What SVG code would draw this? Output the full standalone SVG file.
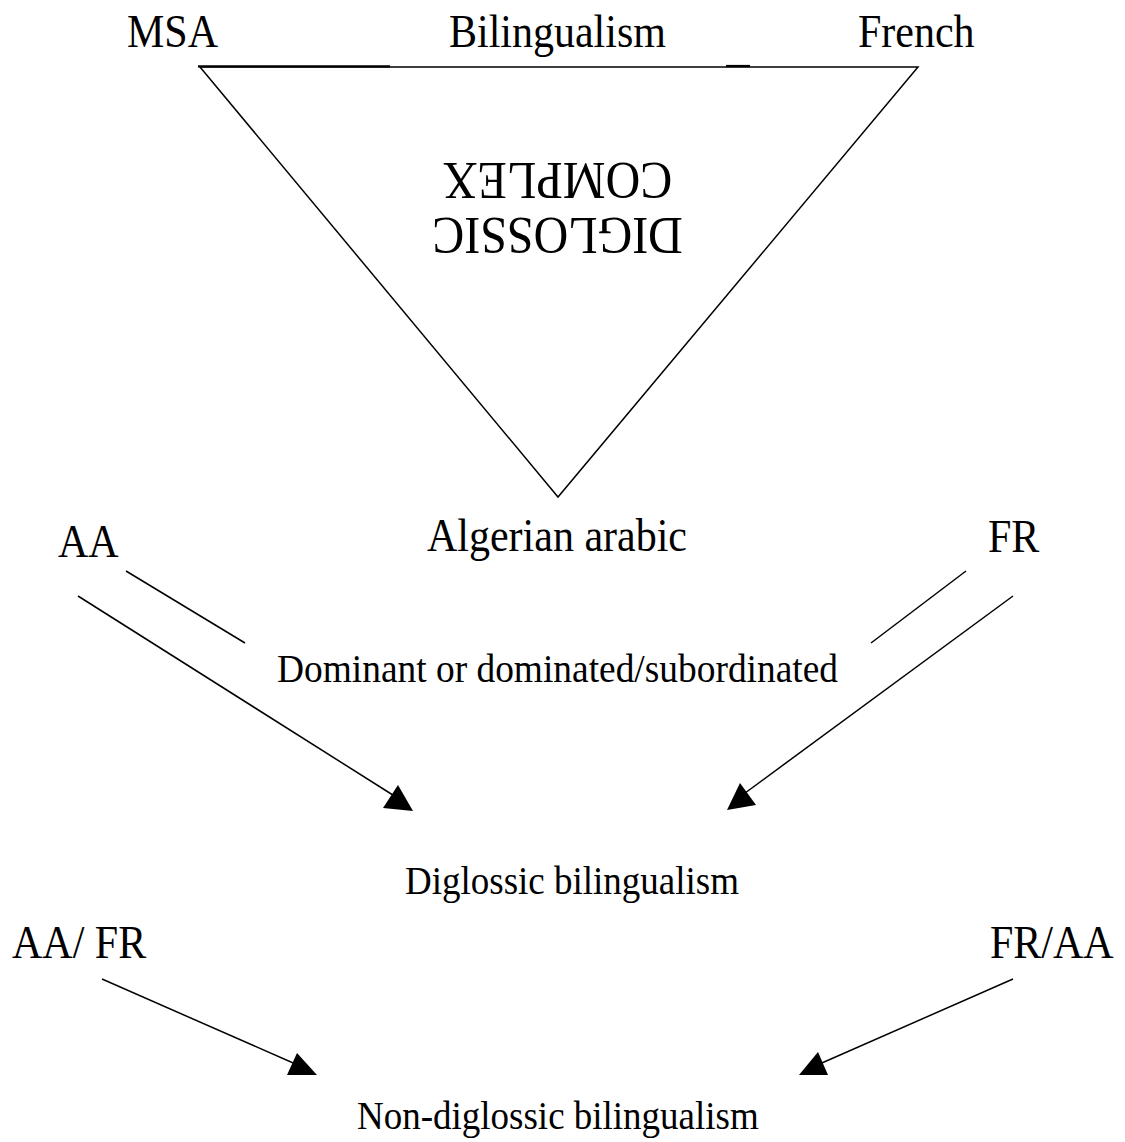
<svg xmlns="http://www.w3.org/2000/svg" width="1125" height="1142" viewBox="0 0 1125 1142">
<style>
text{font-family:"Liberation Serif","Times New Roman",serif;fill:#000}
.l{font-size:42px}
.m{font-size:37px}
.u{font-size:48px}
.s{stroke:#000;stroke-width:1.5;fill:none}
.t{stroke:#000;stroke-width:2.2;fill:none}
.h{fill:#000;stroke:none}
</style>
<rect width="1125" height="1142" fill="#fff"/>
<g id="triangle">
<polygon class="s" points="200,67 918,67 558,497" stroke-linejoin="miter"/>
<line class="t" x1="198" y1="66.3" x2="390" y2="66.3"/>
<line class="t" x1="726" y1="66" x2="750" y2="66"/>
</g>
<g id="node-msa" transform="translate(0,47) scale(1,1.08)"><text class="l" x="127" y="0">MSA</text></g>
<g id="node-bilingualism" transform="translate(0,47) scale(1,1.08)"><text class="l" x="449" y="0">Bilingualism</text></g>
<g id="node-french" transform="translate(0,47) scale(1,1.08)"><text class="l" x="858" y="0">French</text></g>
<g id="node-diglossic-complex" transform="rotate(180 557.5 200)">
<text class="u" x="557.5" y="182" text-anchor="middle" transform="translate(0,182) scale(1,1.08) translate(0,-182)">DIGLOSSIC</text>
<text class="u" x="557.5" y="237" text-anchor="middle" transform="translate(0,237) scale(1,1.08) translate(0,-237)">COMPLEX</text>
</g>
<g id="node-algerian" transform="translate(0,551) scale(1,1.08)"><text class="l" x="427" y="0">Algerian arabic</text></g>
<g id="node-aa" transform="translate(0,557) scale(1,1.08)"><text class="l" x="58" y="0">AA</text></g>
<g id="node-fr" transform="translate(0,552) scale(1,1.08)"><text class="l" x="988" y="0">FR</text></g>
<g id="node-dominant" transform="translate(0,682) scale(1,1.08)"><text class="m" x="277" y="0" textLength="561" lengthAdjust="spacingAndGlyphs">Dominant or dominated/subordinated</text></g>
<g id="node-diglossic-bilingualism" transform="translate(0,894) scale(1,1.08)"><text class="m" x="405" y="0">Diglossic bilingualism</text></g>
<g id="node-aa-fr" transform="translate(0,958) scale(1,1.08)"><text class="l" x="12" y="0">AA/ FR</text></g>
<g id="node-fr-aa" transform="translate(0,958) scale(1,1.08)"><text class="l" x="990" y="0">FR/AA</text></g>
<g id="node-non-diglossic" transform="translate(0,1129) scale(1,1.08)"><text class="m" x="357" y="0">Non-diglossic bilingualism</text></g>
<g id="connectors">
<line class="s" x1="126" y1="571" x2="245" y2="643"/>
<line class="s" x1="966" y1="571" x2="871" y2="643"/>
<line class="s" x1="78" y1="596" x2="396" y2="797"/>
<polygon class="h" points="398,785 383,808 413,811"/>
<line class="s" x1="1013" y1="596" x2="741" y2="796"/>
<polygon class="h" points="740,783 727,810 756,805"/>
<line class="s" x1="102" y1="979" x2="300" y2="1066"/>
<polygon class="h" points="297,1053 287,1075 317,1075"/>
<line class="s" x1="1013" y1="979" x2="815" y2="1066"/>
<polygon class="h" points="818,1052 799,1075 828,1075"/>
</g>
</svg>
